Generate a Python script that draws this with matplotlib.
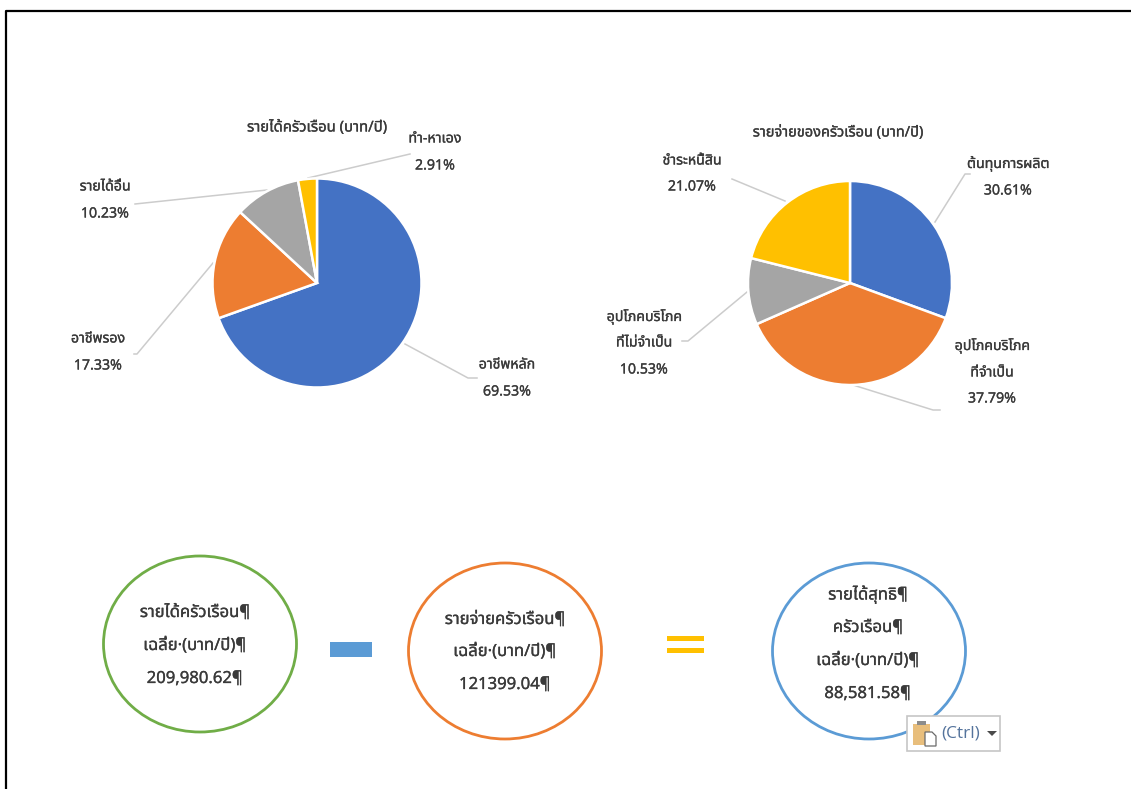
import matplotlib
matplotlib.use('Agg')
import matplotlib.pyplot as plt
import matplotlib.patheffects as pe
from matplotlib.patches import Ellipse, Rectangle, Polygon

plt.rcParams['font.family'] = ['Noto Sans Thai', 'Sarabun', 'IBM Plex Sans Thai', 'Anuphan', 'DejaVu Sans']

W, H = 1131, 789

income_title = 'รายได้ครัวเรือน (บาท/ปี)'
income_shares = [69.53, 17.33, 10.23, 2.91]
expense_title = 'รายจ่ายของครัวเรือน (บาท/ปี)'
expense_shares = [30.61, 37.79, 10.53, 21.07]

pie_colors = ['#4472C4', '#ED7D31', '#A5A5A5', '#FFC000']
text_color = '#3a3a3a'

income_labels = [
    ('อาชีพหลัก', '69.53%'),
    ('อาชีพรอง', '17.33%'),
    ('รายได้อื่น', '10.23%'),
    ('ทำ-หาเอง', '2.91%'),
]
expense_labels = [
    ('ต้นทุนการผลิต', '30.61%'),
    ('อุปโภคบริโภค', 'ที่จำเป็น', '37.79%'),
    ('อุปโภคบริโภค', 'ที่ไม่จำเป็น', '10.53%'),
    ('ชำระหนี้สิน', '21.07%'),
]

income_box = ['รายได้ครัวเรือน¶', 'เฉลี่ย·(บาท/ปี)¶', '209,980.62¶']
expense_box = ['รายจ่ายครัวเรือน¶', 'เฉลี่ย·(บาท/ปี)¶', '121399.04¶']
net_box = ['รายได้สุทธิ¶', 'ครัวเรือน¶', 'เฉลี่ย·(บาท/ปี)¶', '88,581.58¶']


def pie_axes(fig, cx, cy, r, shares):
    # axes in figure fractions, a square exactly around the pie
    ax = fig.add_axes([(cx - r) / W, 1 - (cy + r) / H, 2 * r / W, 2 * r / H])
    ax.pie(shares, colors=pie_colors, startangle=90, counterclock=False, radius=1,
           wedgeprops={'edgecolor': 'white', 'linewidth': 1.8})
    ax.set_xlim(-1, 1)
    ax.set_ylim(-1, 1)
    ax.axis('off')
    return ax


def stack(ax, x, y_list, lines, size=10.2):
    # the reference text is slightly heavy, a thin stroke gets close to it
    for y, s in zip(y_list, lines):
        t = ax.text(x, y + 1, s, ha='center', va='center', fontsize=size, color=text_color)
        t.set_path_effects([pe.withStroke(linewidth=0.2, foreground=text_color)])


def leader(ax, pts):
    ax.plot([p[0] for p in pts], [p[1] for p in pts], color='#cccccc', lw=1.1, zorder=1)


fig = plt.figure(figsize=(W / 100, H / 100), dpi=100, facecolor='white')

# page coordinates: pixels from the top left
page = fig.add_axes([0, 0, 1, 1], zorder=0)
page.set_xlim(0, W)
page.set_ylim(H, 0)
page.axis('off')

top = fig.add_axes([0, 0, 1, 1], zorder=3)
top.set_xlim(0, W)
top.set_ylim(H, 0)
top.axis('off')
top.patch.set_alpha(0)

# window frame, only left and top are visible
page.plot([5.5, 5.5, W], [H, 11, 11], color='black', lw=1.6)

# leaders go under the pies
leader(page, [(308, 178), (410, 154)])
leader(page, [(267, 190), (135, 204)])
leader(page, [(213, 263), (137, 354), (134, 354)])
leader(page, [(405, 344), (468, 378), (477, 378)])
leader(page, [(935, 222), (965, 174), (970, 174)])
leader(page, [(853, 385), (933, 410), (940, 410)])
leader(page, [(747, 292), (688, 341), (682, 341)])
leader(page, [(785, 201), (732, 179)])

pie_axes(fig, 317, 283, 104.5, income_shares)
pie_axes(fig, 850, 283, 102, expense_shares)

# pie titles and labels
stack(top, 317, [127], [income_title], 10.7)
stack(top, 838, [132], [expense_title], 10.5)
stack(top, 507, [364, 391], income_labels[0])
stack(top, 98, [338, 365], income_labels[1])
stack(top, 105, [186, 213], income_labels[2])
stack(top, 435, [138, 165], income_labels[3])
stack(top, 1008, [163, 190], expense_labels[0])
stack(top, 992, [345, 372, 398], expense_labels[1])
stack(top, 644, [316, 342, 369], expense_labels[2])
stack(top, 692, [160, 186], expense_labels[3])

# the sum below the pies
top.add_patch(Ellipse((200, 644), 193, 176, fill=False, ec='#70AD47', lw=2))
top.add_patch(Ellipse((505, 651), 193, 176, fill=False, ec='#ED7D31', lw=2))
top.add_patch(Ellipse((869, 651), 193, 176, fill=False, ec='#5B9BD5', lw=2))
stack(top, 195, [612, 645, 678], income_box, 12)
stack(top, 505, [619, 651, 684], expense_box, 12)
stack(top, 868, [594, 627, 660, 693], net_box, 12)

top.add_patch(Rectangle((330, 642), 42, 15, fc='#5B9BD5', ec='none'))
top.add_patch(Rectangle((667, 636), 37, 5, fc='#FFC000', ec='none'))
top.add_patch(Rectangle((667, 648), 37, 5, fc='#FFC000', ec='none'))

# paste options button
top.add_patch(Rectangle((907, 716), 93, 35, fc='white', ec='#c6c6c6', lw=1.2, zorder=5))
top.add_patch(Rectangle((913, 724), 17, 21, fc='#E8BE7C', ec='none', zorder=6))
top.add_patch(Rectangle((917, 721), 9, 4, fc='#8c8c8c', ec='none', zorder=6))
top.add_patch(Polygon([(925, 732), (932, 732), (936, 736), (936, 746), (925, 746)],
                      fc='white', ec='#6a6a6a', lw=0.9, zorder=7))
top.text(941, 733, '(Ctrl)', ha='left', va='center', fontsize=12.4, color='#54739c', zorder=6,
         family=['Open Sans', 'DejaVu Sans'])
top.add_patch(Polygon([(987, 731), (997, 731), (992, 736)], fc='#4a4a4a', ec='none', zorder=6))

fig.savefig('out.png', dpi=100)
